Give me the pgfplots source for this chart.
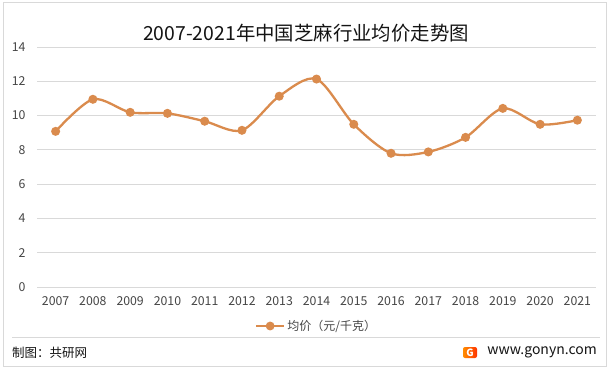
\documentclass[border=0pt]{standalone}
\usepackage{pgfplots}
\pgfplotsset{compat=1.18}
\usepackage{fontspec}
\setmainfont{Noto Sans CJK SC}
\definecolor{lineor}{RGB}{218,139,77}
\definecolor{gridc}{RGB}{217,217,217}
\definecolor{txt}{RGB}{70,70,70}
\definecolor{ttl}{RGB}{20,20,20}
\begin{document}
\begin{tikzpicture}[x=1bp,y=1bp]
\path[use as bounding box] (0,0) rectangle (612,371);
\fill[white] (0,0) rectangle (612,371);
\draw[gridc, line width=1bp] (3,4.5) rectangle (606,368);
\begin{axis}[
  at={(37bp,84bp)}, anchor=south west,
  scale only axis, width=559bp, height=240bp,
  xmin=-0.5, xmax=14.5, ymin=0, ymax=14,
  ytick={0,2,4,6,8,10,12,14},
  xtick={0,1,2,3,4,5,6,7,8,9,10,11,12,13,14},
  xticklabels={2007,2008,2009,2010,2011,2012,2013,2014,2015,2016,2017,2018,2019,2020,2021},
  axis line style={draw=none},
  ymajorgrids, grid style={gridc, line width=0.8bp},
  major tick length=0pt,
  /pgf/number format/assume math mode=true,
  tick label style={font=\fontsize{12.3bp}{14bp}\selectfont, text=txt},
  xticklabel style={yshift=-6.5bp},
  yticklabel style={xshift=-8bp},
  legend style={at={(0.5,-0.1625)}, anchor=center, draw=none, fill=none,
    font=\fontsize{12bp}{14bp}\selectfont, text=txt},
  legend image code/.code={
    \draw[lineor, line width=2.4bp] (-6bp,0bp) -- (22bp,0bp);
    \fill[lineor] (8bp,0bp) circle (3.2bp);},
]
\addplot[lineor, line width=2.3bp, smooth, tension=0.5, mark=*, mark size=3.3bp,
  mark options={solid, fill=lineor, draw=lineor}]
coordinates {
(0,9.08) (1,10.95) (2,10.19) (3,10.13) (4,9.67) (5,9.14) (6,11.13) (7,12.13)
(8,9.49) (9,7.80) (10,7.88) (11,8.73) (12,10.42) (13,9.49) (14,9.73)
};
\addlegendentry{均价（元/千克）}
\end{axis}
\node[text=ttl, font=\fontsize{19.4bp}{23bp}\selectfont] at (306,338) {2007-2021年中国芝麻行业均价走势图};
\draw[gridc, line width=0.8bp] (12,34) -- (600,34);
\node[anchor=west, text=ttl, font=\fontsize{12.5bp}{15bp}\selectfont, inner sep=0] at (12,18) {制图：共研网};
\node[anchor=east, text=ttl, font=\fontsize{14bp}{16bp}\selectfont, inner sep=0] at (597,18.5) {www.gonyn.com};
\shade[left color=orange!90!yellow, right color=red!60!orange, rounded corners=2bp] (463,13) rectangle (477,24);
\node[text=white, font=\bfseries\fontsize{10bp}{11bp}\selectfont, inner sep=0] at (470,18.5) {G};
\end{tikzpicture}
\end{document}
